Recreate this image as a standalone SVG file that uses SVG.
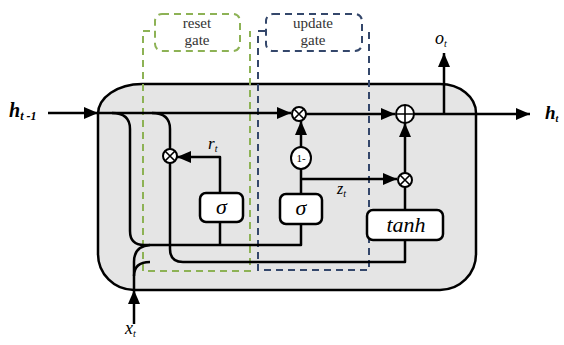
<svg xmlns="http://www.w3.org/2000/svg" width="564" height="345" viewBox="0 0 564 345">
<style>
.w{fill:none;stroke:#000;stroke-width:2.5;stroke-linejoin:round}
.op{fill:#fff;stroke:#000;stroke-width:2}
.opl{stroke:#000;stroke-width:1.6}
.box{fill:#fff;stroke:#000;stroke-width:2.5}
text{font-family:'Liberation Serif','Times New Roman','DejaVu Serif',serif}
.t{fill:#000}
.it{font-style:italic}
.lbl{font-size:15px;fill:#333;text-anchor:middle}
.gd{fill:none;stroke:#8db255;stroke-width:2;stroke-dasharray:7,5}
.bd{fill:none;stroke:#34476b;stroke-width:2;stroke-dasharray:7,5}
</style>
<defs>
<marker id="ah" markerUnits="userSpaceOnUse" markerWidth="14" markerHeight="12" viewBox="0 0 14 12" refX="14" refY="6" orient="auto">
<path d="M0,0 L14,6 L0,12 Z" fill="#000"/>
</marker>
</defs>

<g id="cell">
<path d="M142,84 H440 A36,29 0 0 1 476,113 V254 A36,36 0 0 1 440,290 H134 A36,36 0 0 1 98,254 V114 A44,30 0 0 1 142,84 Z" fill="#e5e5e5" stroke="#000" stroke-width="2.5"/>
</g>

<g id="reset-gate-region">
<path class="gd" d="M150,31 H143 V271 H250 V31"/>
<rect class="gd" x="155" y="14" width="85" height="37" rx="7"/>
<text class="lbl" x="197" y="28" font-family="Liberation Serif, serif">reset</text>
<text class="lbl" x="197" y="45" font-family="Liberation Serif, serif">gate</text>
</g>

<g id="update-gate-region">
<path class="bd" d="M265,31 H258 V270 H369 V31"/>
<rect class="bd" x="266" y="14" width="96" height="37" rx="7"/>
<text class="lbl" x="313" y="28" font-family="Liberation Serif, serif">update</text>
<text class="lbl" x="313" y="45" font-family="Liberation Serif, serif">gate</text>
</g>

<g id="connectors">
<path class="w" d="M48,113 H98" marker-end="url(#ah)"/>
<path class="w" d="M98,113 H291" marker-end="url(#ah)"/>
<path class="w" d="M112,113 Q130,113 130,129 V231 Q130,245 144,245 H301 V224"/>
<path class="w" d="M152,113 Q170,113 170,129 V149"/>
<path class="w" d="M170,163 V249 Q170,262 183,262 H405 V240"/>
<path class="w" d="M220,245 V222"/>
<path class="w" d="M220,193 V157 H177" marker-end="url(#ah)"/>
<path class="w" d="M134,324 V290" stroke-width="3" marker-end="url(#ah)"/>
<path class="w" stroke-width="3" d="M134,291 V276 Q134,262 150,262"/>
<path class="w" stroke-width="3" d="M134,276 V262 Q134,246 150,245"/>
<path class="w" d="M301,194 V169"/>
<path class="w" d="M301,147 V121" marker-end="url(#ah)"/>
<path class="w" d="M301,179 H397" marker-end="url(#ah)"/>
<path class="w" d="M306,114 H395" marker-end="url(#ah)"/>
<path class="w" d="M405,173 V123" marker-end="url(#ah)"/>
<path class="w" d="M405,210 V187"/>
<path class="w" d="M414,114 H530" marker-end="url(#ah)"/>
<path class="w" d="M444,114 V53" marker-end="url(#ah)"/>
</g>

<g id="mul-reset">
<circle class="op" cx="170" cy="156" r="7"/>
<path class="opl" d="M165,151 L175,161 M175,151 L165,161"/>
</g>
<g id="mul-update">
<circle class="op" cx="299" cy="114" r="7"/>
<path class="opl" d="M294,109 L304,119 M304,109 L294,119"/>
</g>
<g id="mul-candidate">
<circle class="op" cx="405" cy="180" r="7"/>
<path class="opl" d="M400,175 L410,185 M410,175 L400,185"/>
</g>
<g id="add">
<circle class="op" cx="405" cy="114" r="9"/>
<path class="opl" d="M405,105 V123 M396,114 H414"/>
</g>
<g id="one-minus">
<ellipse class="op" cx="301" cy="158" rx="10" ry="11"/>
<text class="t" x="301" y="162" font-size="11" text-anchor="middle" font-family="Liberation Serif, serif">1-</text>
</g>

<g id="sigma-reset">
<rect class="box" x="200" y="193" width="43" height="29" rx="6"/>
<text class="t it" x="221.5" y="214" font-size="22" text-anchor="middle" font-family="Liberation Serif, serif">σ</text>
</g>
<g id="sigma-update">
<rect class="box" x="280" y="194" width="42" height="30" rx="6"/>
<text class="t it" x="301" y="215" font-size="22" text-anchor="middle" font-family="Liberation Serif, serif">σ</text>
</g>
<g id="tanh">
<rect class="box" x="367" y="210" width="76" height="30" rx="6"/>
<text class="t it" x="406" y="232" font-size="22" text-anchor="middle" font-family="Liberation Serif, serif">tanh</text>
</g>

<g id="labels" font-family="Liberation Serif, serif">
<text class="t it" x="9" y="117" font-size="20" font-weight="bold">h<tspan font-size="12" dy="3">t -1</tspan></text>
<text class="t it" x="208" y="149" font-size="17">r<tspan font-size="10" dy="3">t</tspan></text>
<text class="t it" x="337" y="194" font-size="16" fill="#444">z<tspan font-size="10" dy="3">t</tspan></text>
<text class="t it" x="435" y="44" font-size="18">o<tspan font-size="10" dy="3">t</tspan></text>
<text class="t it" x="545" y="119" font-size="19" font-weight="bold">h<tspan font-size="10" dy="3">t</tspan></text>
<text class="t it" x="125" y="334" font-size="18">x<tspan font-size="10" dy="3">t</tspan></text>
</g>
</svg>
